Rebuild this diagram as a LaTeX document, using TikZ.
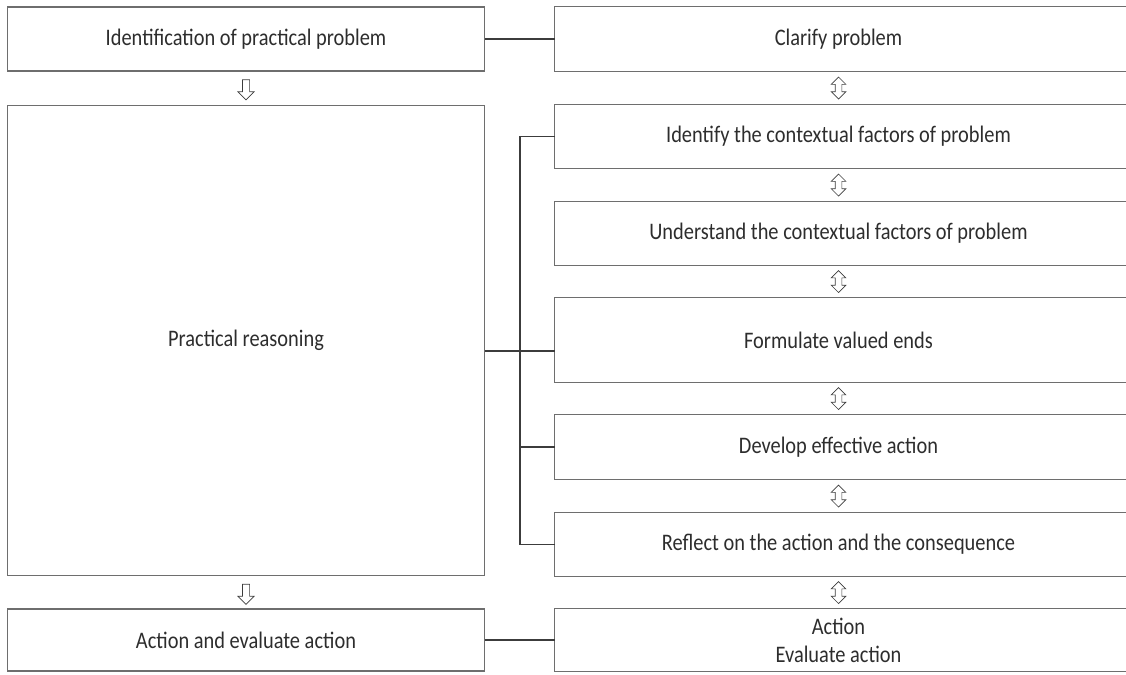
\documentclass[tikz,border=0pt]{standalone}
\usepackage{fontspec}
\setmainfont{Carlito}[FakeStretch=0.86]
\usetikzlibrary{shapes.arrows,calc}
\usepackage{xcolor}
\definecolor{boxgray}{RGB}{110,110,110}
\definecolor{linegray}{RGB}{60,60,60}
\definecolor{textgray}{RGB}{45,45,45}

\begin{document}
\begin{tikzpicture}[x=0.02cm,y=-0.02cm,semithick,font=\fontsize{13.5}{16}\selectfont,text=textgray]
  \tikzstyle{leftbox}=[draw=boxgray,line width=0.6pt,minimum width=9.56cm,inner sep=0pt]
  \tikzstyle{rightbox}=[minimum width=11.34cm,inner sep=0pt,align=center]
  \tikzstyle{downarrow}=[single arrow,draw=linegray,line width=0.4pt,shape border rotate=270,
    minimum height=0.4cm,inner sep=0.065cm,single arrow head extend=0.09cm]
  \tikzstyle{bothways}=[double arrow,draw=linegray,line width=0.4pt,shape border rotate=90,
    minimum height=0.44cm,inner sep=0.06cm,double arrow head extend=0.08cm]
  \tikzstyle{link}=[draw=linegray,line width=0.6pt]

  \useasboundingbox (0,0) rectangle (1126,674);

  % left column
  \node[leftbox,minimum height=1.28cm] (IP) at (246,39)    {Identification of practical problem};
  \node[leftbox,minimum height=9.42cm] (PR) at (246,340.5) {Practical reasoning};
  \node[leftbox,minimum height=1.24cm] (AE) at (246,640)   {Action and evaluate action};

  % right column
  \node[rightbox,minimum height=1.28cm] (CP) at (838.5,39)    {Clarify problem};
  \node[rightbox,minimum height=1.26cm] (IC) at (838.5,136.5) {Identify the contextual factors of problem};
  \node[rightbox,minimum height=1.26cm] (UC) at (838.5,233.5) {Understand the contextual factors of problem};
  \node[rightbox,minimum height=1.68cm] (FV) at (838.5,340)   {Formulate valued ends};
  \node[rightbox,minimum height=1.28cm] (DA) at (838.5,447)   {Develop effective action};
  \node[rightbox,minimum height=1.26cm] (RA) at (838.5,544.5) {Reflect on the action and the consequence};
  \node[rightbox,minimum height=1.24cm] (AC) at (838.5,640)   {Action\\[0pt]Evaluate action};

  \foreach \n in {CP,IC,UC,FV,DA,RA,AC}
    \draw[draw=boxgray,line width=0.6pt] ([xshift=0.2cm]\n.north east) -- (\n.north west)
      -- (\n.south west) -- ([xshift=0.2cm]\n.south east);

  % arrows between boxes
  \node[downarrow] (d1) at ($(IP.south)!0.5!(PR.north)$) {};
  \node[downarrow] (d2) at ($(PR.south)!0.5!(AE.north)$) {};
  \node[bothways] (b1) at ($(CP.south)!0.5!(IC.north)$) {};
  \node[bothways] (b2) at ($(IC.south)!0.5!(UC.north)$) {};
  \node[bothways] (b3) at ($(UC.south)!0.5!(FV.north)$) {};
  \node[bothways] (b4) at ($(FV.south)!0.5!(DA.north)$) {};
  \node[bothways] (b5) at ($(DA.south)!0.5!(RA.north)$) {};
  \node[bothways] (b6) at ($(RA.south)!0.5!(AC.north)$) {};

  % connectors
  \coordinate (trunkTop) at (520,136.5);
  \coordinate (trunkMid) at (520,351);
  \coordinate (trunkBot) at (520,544.5);
  \path[link] (IP.east) -- (CP.west);
  \path[link] (AE.east) -- (AC.west);
  \path[link] (PR.east |- trunkMid) -- (trunkMid) -- (FV.west |- trunkMid);
  \path[link] (IC.west) -| (trunkTop) -- (trunkBot) -- (RA.west);
  \path[link] (DA.west) -- (DA.west -| trunkTop);
\end{tikzpicture}
\end{document}
